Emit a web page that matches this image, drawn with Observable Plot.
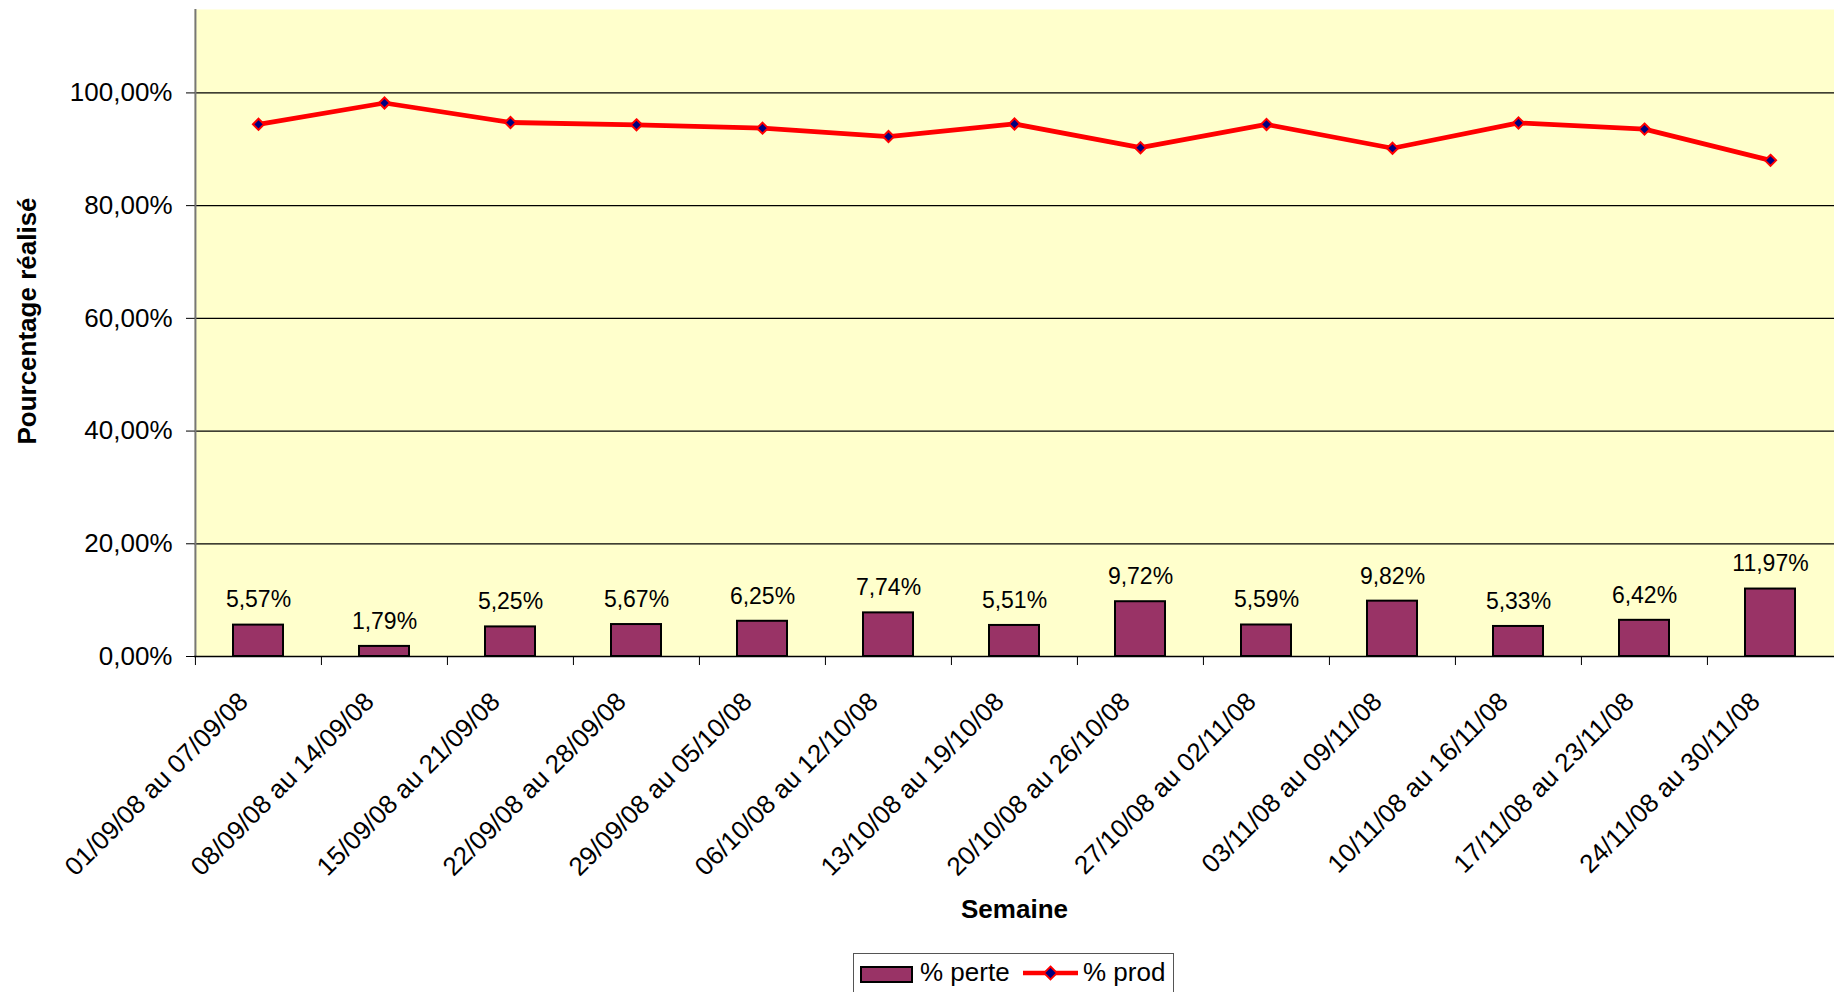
<!DOCTYPE html>
<html>
<head>
<meta charset="utf-8">
<script src="https://cdn.jsdelivr.net/npm/d3@7"></script>
<script src="https://cdn.jsdelivr.net/npm/@observablehq/plot@0.6"></script>
<style>
  body { margin: 0; background: #fff; font-family: "Liberation Sans", Arial, sans-serif; }
  #legend { margin-left: 853px; width: 321px; height: 60px; border: 1px solid #555; box-sizing: border-box; position: relative; font-size: 26px; color: #000; }
  #legend .sw { position: absolute; left: 6px; top: 12px; width: 53px; height: 17px; background: #993366; border: 2px solid #000; box-sizing: border-box; }
  #legend .t1 { position: absolute; left: 66px; top: 3px; }
  #legend .t2 { position: absolute; left: 229px; top: 3px; }
  #legend svg { position: absolute; left: 168px; top: 9px; }
</style>
</head>
<body>
<div id="chart"></div>
<div id="legend">
  <div class="sw"></div><span class="t1">% perte</span>
  <svg width="57" height="20"><line x1="1" y1="10" x2="56" y2="10" stroke="#ff0000" stroke-width="4.5"/><path d="M28.5,3.5 L35,10 L28.5,16.5 L22,10 Z" fill="#000080" stroke="#ff0000" stroke-width="1.8"/></svg>
  <span class="t2">% prod</span>
</div>
<script>
const weeks = ["01/09/08 au 07/09/08", "08/09/08 au 14/09/08", "15/09/08 au 21/09/08", "22/09/08 au 28/09/08", "29/09/08 au 05/10/08", "06/10/08 au 12/10/08", "13/10/08 au 19/10/08", "20/10/08 au 26/10/08", "27/10/08 au 02/11/08", "03/11/08 au 09/11/08", "10/11/08 au 16/11/08", "17/11/08 au 23/11/08", "24/11/08 au 30/11/08"];
const perte = [5.57, 1.79, 5.25, 5.67, 6.25, 7.74, 5.51, 9.72, 5.59, 9.82, 5.33, 6.42, 11.97];
const prod = [94.43, 98.21, 94.75, 94.33, 93.75, 92.26, 94.49, 90.28, 94.41, 90.18, 94.67, 93.58, 88.03];
const yTicks = [0, 20, 40, 60, 80, 100];
const gridTicks = [20, 40, 60, 80, 100];

const data = weeks.map((w, i) => ({week: w, perte: perte[i], prod: prod[i]}));
const fmt = v => v.toFixed(2).replace(".", ",") + "%";

const W = 1834, H = 953, ML = 194, MR = 0, MT = 9, MB = 297;
const yMax = 114.8;
const bw = (W - ML - MR) / weeks.length;
const font = '"Liberation Sans", Arial, sans-serif';

const chart = Plot.plot({
  width: W, height: H,
  marginLeft: ML, marginRight: MR, marginTop: MT, marginBottom: MB,
  style: {fontFamily: font, background: "#fff", color: "#000"},
  x: {type: "band", domain: weeks, padding: 0},
  y: {domain: [0, yMax]},
  marks: [
    Plot.frame({fill: "#FFFFCC", stroke: null}),
    Plot.ruleY(gridTicks, {stroke: "#000", strokeWidth: 1.2}),
    Plot.ruleX(weeks, {x: d => d, y1: 0, y2: -1.6, dx: -bw / 2, stroke: "#000", strokeWidth: 1}),
    Plot.ruleX([weeks[0]], {y1: 0, y2: yMax, dx: -bw / 2, stroke: "#777", strokeWidth: 2}),
    Plot.ruleY([0], {stroke: "#000", strokeWidth: 1.5}),
    Plot.barY(data, {x: "week", y: "perte", fill: "#993366", stroke: "#000", strokeWidth: 2, insetLeft: 38, insetRight: 38}),
    Plot.text(data, {x: "week", y: "perte", text: d => fmt(d.perte), dy: -25, fontSize: 23, fill: "#000"}),
    Plot.line(data, {x: "week", y: "prod", stroke: "#ff0000", strokeWidth: 4.8}),
    Plot.dot(data, {x: "week", y: "prod", symbol: "diamond2", r: 5, fill: "#000080", stroke: "#ff0000", strokeWidth: 2}),
    Plot.axisY(yTicks, {tickSize: 8, tickPadding: 14, tickFormat: fmt, fontSize: 26, label: null, stroke: "#000"}),
    Plot.axisX({tickSize: 0, tickRotate: -45, tickPadding: 41, dx: -15, fontSize: 26, label: null}),
    Plot.text(["Pourcentage réalisé"], {frameAnchor: "left", textAnchor: "middle", dx: -167, dy: -12, rotate: -90, fontSize: 26, fontWeight: "bold", fill: "#000"}),
    Plot.text(["Semaine"], {frameAnchor: "bottom", dy: 261, fontSize: 26, fontWeight: "bold", fill: "#000"})
  ]
});
document.getElementById("chart").appendChild(chart);
</script>
</body>
</html>
